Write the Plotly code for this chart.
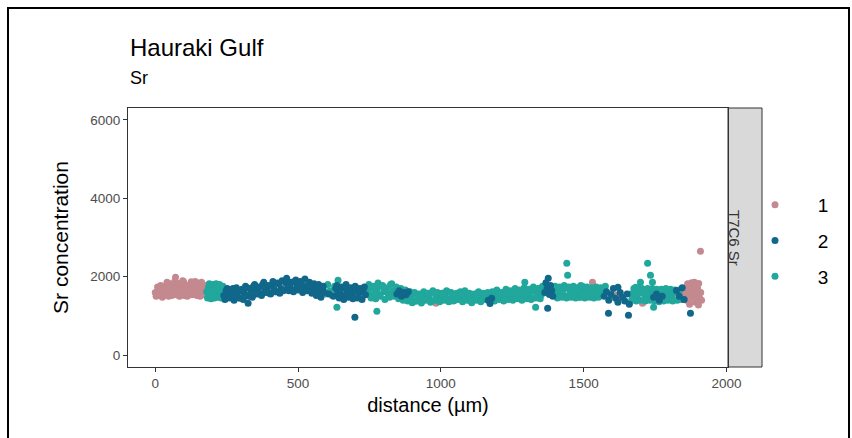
import plotly.graph_objects as go

# ---------------- data ----------------
# group 1 (pink)
dist_1 = [0, 5, 11, 16, 22, 27, 33, 38, 44, 49, 55, 60, 66, 71, 77, 82, 88, 93, 99, 104,
          110, 115, 121, 126, 132, 137, 143, 148, 154, 159, 165, 170, 176,
          3, 8, 13, 19, 25, 30, 36, 41, 47, 52, 58, 63, 68, 74, 80, 85, 91, 96, 102, 107,
          112, 118, 124, 129, 135, 140, 146, 151, 157, 162, 168, 173,
          983, 1245,
          1455, 1470, 1482, 1495, 1508, 1520, 1531, 1545, 1558, 1490, 1615, 1706, 1811,
          1852, 1857, 1860, 1864, 1868, 1871, 1875, 1878, 1882, 1885, 1889, 1892, 1896,
          1899, 1903, 1906, 1910, 1913, 1909, 1902, 1888, 1880, 1866]
sr_1 = [1600, 1560, 1680, 1620, 1540, 1720, 1650, 1780, 1600, 1830, 1700, 1560, 1760, 1990, 1680,
        1820, 1600, 1750, 1880, 1650, 1560, 1780, 1700, 1870, 1620, 1760, 1580, 1840, 1700, 1620,
        1790, 1660, 1720,
        1500, 1740, 1520, 1780, 1480, 1700, 1540, 1860, 1500, 1760, 1520, 1700, 1880, 1540, 1820,
        1500, 1700, 1900, 1520, 1780, 1500, 1720, 1820, 1540, 1760, 1880, 1520, 1740, 1500, 1860,
        1540, 1780,
        1325, 1530,
        1650, 1560, 1720, 1600, 1680, 1540, 1860, 1620, 1700, 1580, 1530, 1325, 1530,
        1560, 1720, 1400, 1820, 1540, 1300, 1680, 1850, 1450, 1620, 1780, 1350, 1520,
        1700, 1830, 1460, 1600, 1400, 2650, 1280, 1860, 1560, 1650]

# group 2 (dark blue)
dist_2 = [240, 248, 256, 264, 272, 280, 288, 296, 304, 312, 320, 328, 336, 344, 352, 360, 368,
          376, 384, 392, 400, 408, 416, 424, 432, 440, 448, 456, 464, 472, 480, 488, 496, 504,
          512, 520, 528, 536, 544, 552, 560, 568, 576, 584, 592, 608, 624, 632, 640,
          648, 656, 664, 672, 680, 688, 696, 704, 712, 720, 728, 736,
          244, 252, 260, 268, 276, 284, 292, 300, 308, 316, 324, 332, 340, 348, 356, 364, 372,
          380, 388, 396, 404, 412, 420, 428, 436, 444, 452, 460, 468, 476, 484, 492, 500, 508,
          516, 524, 532, 540, 548, 556, 564, 572, 580, 588, 636, 644, 652, 660, 668, 676,
          684, 692, 700, 708, 716, 724, 732,
          325, 699,
          846, 854, 862, 870, 878, 886,
          1166, 1172, 1178,
          1364, 1368, 1372, 1376, 1380, 1384, 1388, 1392, 1374,
          1572, 1580, 1588, 1596, 1604, 1612, 1620, 1628, 1636, 1644, 1652, 1660,
          1587, 1657, 1620,
          1745, 1755, 1765, 1775,
          1825, 1835, 1845, 1852, 1874]
sr_2 = [1520, 1640, 1480, 1600, 1700, 1540, 1620, 1450, 1680, 1580, 1720, 1500, 1650, 1760, 1600,
        1700, 1560, 1800, 1650, 1720, 1580, 1780, 1680, 1620, 1820, 1700, 1640, 1850, 1720, 1800,
        1660, 1880, 1760, 1700, 1840, 1740, 1660, 1800, 1700, 1760, 1620, 1720, 1560, 1680, 1600,
        1560, 1500, 1700, 1580, 1640, 1520, 1720, 1600, 1680, 1540, 1640, 1700, 1560,
        1620, 1680, 1540,
        1420, 1700, 1460, 1660, 1400, 1720, 1480, 1640, 1420, 1760, 1520, 1700, 1480, 1800, 1560,
        1740, 1520, 1860, 1600, 1780, 1560, 1880, 1620, 1840, 1580, 1900, 1660, 1960, 1640, 1860,
        1620, 1920, 1660, 1880, 1600, 1940, 1640, 1860, 1580, 1820, 1520, 1800, 1480, 1760,
        1780, 1460, 1740, 1420, 1800, 1480, 1720, 1440, 1760, 1460, 1700, 1420, 1740,
        1325, 968,
        1560, 1640, 1500, 1600, 1540, 1620,
        1400, 1320, 1450,
        1600, 1850, 1700, 1960, 1550, 1780, 1650, 1500, 1197,
        1500, 1620, 1400, 1550, 1700, 1450, 1350, 1600, 1480, 1380, 1560, 1300,
        1070, 1019, 1730,
        1480, 1560, 1400, 1500,
        1650, 1500, 1720, 1420, 1070]

# group 3 (teal)
dist_3 = [180, 186, 192, 198, 204, 210, 216, 222, 228, 234, 240, 246,
          183, 189, 195, 201, 207, 213, 219, 225, 231, 237, 243,
          588, 596, 604, 612, 620, 628, 636, 644, 640, 636, 776,
          744, 752, 760, 768, 776, 784, 792, 800, 808, 816, 824, 832, 840, 848, 856, 864, 872,
          880, 888, 896, 904, 912, 920, 928, 936, 944, 952, 960, 968, 976, 984, 992, 1000, 1008,
          1016, 1024, 1032, 1040, 1048, 1056, 1064, 1072, 1080, 1088, 1096, 1104, 1112, 1120,
          1128, 1136, 1144, 1152, 1160, 1168, 1176, 1184, 1192, 1200, 1208, 1216, 1224, 1232,
          1240, 1248, 1256, 1264, 1272, 1280, 1288, 1296, 1304, 1312, 1320, 1328, 1336, 1344,
          1352, 1360,
          748, 756, 764, 772, 780, 788, 796, 804, 812, 820, 828, 836, 844, 852, 860, 868, 876,
          884, 892, 900, 908, 916, 924, 932, 940, 948, 956, 964, 972, 980, 988, 996, 1004, 1012,
          1020, 1028, 1036, 1044, 1052, 1060, 1068, 1076, 1084, 1092, 1100, 1108, 1116, 1124,
          1132, 1140, 1148, 1156, 1164, 1172, 1180, 1188, 1196, 1204, 1212, 1220, 1228, 1236,
          1244, 1252, 1260, 1268, 1276, 1284, 1292, 1300, 1308, 1316, 1324, 1332, 1340, 1348,
          1356,
          1294, 1332,
          1396, 1404, 1412, 1420, 1428, 1436, 1444, 1452, 1460, 1468, 1476, 1484, 1492, 1500,
          1508, 1516, 1524, 1532, 1540, 1548, 1556, 1564, 1576,
          1400, 1408, 1416, 1424, 1432, 1440, 1448, 1456, 1464, 1472, 1480, 1488, 1496, 1504,
          1512, 1520, 1528, 1536, 1544, 1552, 1560,
          1441, 1444, 1490,
          1664, 1672, 1680, 1688, 1696, 1704, 1712, 1720, 1728, 1736, 1744, 1752, 1760, 1768,
          1776, 1784, 1792, 1800, 1808, 1816,
          1668, 1676, 1684, 1692, 1700, 1708, 1716, 1724, 1732, 1740, 1748, 1756, 1764, 1772,
          1780, 1788, 1796, 1804, 1812, 1820, 1828, 1836, 1844,
          1682, 1699, 1724, 1734, 1741, 1745]
sr_3 = [1620, 1720, 1560, 1680, 1600, 1740, 1540, 1660, 1700, 1520, 1620, 1560,
        1460, 1820, 1440, 1800, 1460, 1820, 1480, 1800, 1460, 1760, 1440,
        1700, 1560, 1800, 1640, 1520, 1760, 1600, 1700, 1910, 1223, 1121,
        1640, 1520, 1720, 1600, 1680, 1540, 1760, 1620, 1700, 1560, 1800, 1640, 1580, 1700, 1520,
        1620, 1480, 1580, 1500, 1420, 1560, 1380, 1480, 1520, 1400, 1560, 1440, 1520, 1380, 1600,
        1460, 1540, 1420, 1580, 1480, 1620, 1440, 1540, 1400, 1580, 1500, 1440, 1600, 1460, 1540,
        1380, 1520, 1440, 1580, 1420, 1500, 1560, 1440, 1520, 1400, 1560, 1480, 1600, 1440, 1540,
        1480, 1620, 1500, 1440, 1580, 1520, 1640, 1480, 1580, 1660, 1520, 1600, 1460, 1640, 1560,
        1700, 1540, 1620,
        1800, 1460, 1760, 1440, 1840, 1500, 1780, 1420, 1720, 1480, 1820, 1500, 1740, 1440, 1700,
        1400, 1660, 1380, 1620, 1340, 1600, 1380, 1560, 1330, 1620, 1400, 1580, 1350, 1640, 1400,
        1600, 1360, 1580, 1400, 1640, 1360, 1600, 1380, 1560, 1420, 1620, 1360, 1640, 1400, 1580,
        1340, 1560, 1400, 1620, 1360, 1580, 1420, 1600, 1360, 1620, 1380, 1660, 1420, 1600, 1380,
        1680, 1420, 1640, 1400, 1700, 1440, 1660, 1400, 1720, 1440, 1680, 1420, 1740, 1460, 1700,
        1440, 1760,
        1860, 1223,
        1620, 1540, 1700, 1580, 1660, 1500, 1720, 1600, 1540, 1680, 1580, 1480, 1640, 1560,
        1700, 1520, 1620, 1480, 1580, 1660, 1520, 1600, 1760,
        1760, 1460, 1740, 1480, 1780, 1460, 1740, 1480, 1760, 1460, 1720, 1480, 1760, 1460,
        1740, 1480, 1720, 1460, 1740, 1480, 1720,
        2344, 2038, 1780,
        1560, 1480, 1640, 1520, 1600, 1700, 1560, 1480, 1620, 1540, 1660, 1600, 1520, 1640,
        1560, 1500, 1620, 1560, 1480, 1600,
        1400, 1700, 1380, 1720, 1400, 1680, 1380, 1700, 1400, 1700, 1380, 1680, 1360, 1680,
        1380, 1700, 1400, 1680, 1380, 1660, 1400, 1660, 1420,
        1732, 1860, 2344, 2038, 1860, 1223]

group_names = ["1", "2", "3"]
group_colors = ["#C4898F", "#11678A", "#21A79B"]
facet_label = "T7C6 Sr"
x_ticks = [0, 500, 1000, 1500, 2000]
y_ticks = [0, 2000, 4000, 6000]

assert len(dist_1) == len(sr_1) and len(dist_2) == len(sr_2) and len(dist_3) == len(sr_3)

# ---------------- figure ----------------
W, H = 852, 438
L, R, T, B = 128, 90, 108, 71
pw = W - L - R
ph = H - T - B
panel_right = (728 - L) / pw


def px_x(p):
    return (p - L) / pw


def px_y(p):
    return (H - B - p) / ph


fig = go.Figure()
series = {"1": (dist_1, sr_1), "2": (dist_2, sr_2), "3": (dist_3, sr_3)}
draw_order = ["1", "3", "2"]
for name in draw_order:
    idx = group_names.index(name)
    xs, ys = series[name]
    fig.add_trace(go.Scatter(
        x=xs, y=ys, mode="markers", name="\u2002\u2002\u2009" + name,
        legendgroup=name, legendrank=idx + 1,
        marker=dict(color=group_colors[idx], size=7, line=dict(width=0)),
    ))

font_family = "Liberation Sans, Arial, sans-serif"
fig.update_layout(
    width=W, height=H,
    margin=dict(l=L, r=R, t=T, b=B),
    paper_bgcolor="white", plot_bgcolor="white",
    font=dict(family=font_family, color="#000000"),
    showlegend=True,
    legend=dict(x=px_x(755), xanchor="left", y=px_y(241), yanchor="middle",
                font=dict(size=19, color="#000000"), tracegroupgap=8,
                bgcolor="rgba(0,0,0,0)"),
    xaxis=dict(domain=[0, panel_right], range=[-95.5, 2005.5], tickvals=x_ticks,
               showgrid=False, zeroline=False, showline=True, mirror=True,
               linecolor="#333333", linewidth=1, ticks="outside", ticklen=4,
               tickcolor="#333333", tickfont=dict(size=13.5, color="#4D4D4D"),
               title=dict(text="distance (µm)", font=dict(size=20, color="#000000"), standoff=7)),
    yaxis=dict(range=[-300, 6300], tickvals=y_ticks,
               showgrid=False, zeroline=False, showline=True, mirror=True,
               linecolor="#333333", linewidth=1, ticks="outside", ticklen=4,
               tickcolor="#333333", tickfont=dict(size=13.5, color="#4D4D4D"),
               title=dict(text="Sr concentration", font=dict(size=21, color="#000000"), standoff=15)),
)

# facet strip
fig.add_shape(type="rect", xref="paper", yref="paper", x0=panel_right, x1=1, y0=0, y1=1,
              fillcolor="#D9D9D9", line=dict(color="#333333", width=1), layer="below")
fig.add_annotation(text=facet_label, xref="paper", yref="paper", x=(panel_right + 1) / 2, y=0.5,
                   textangle=90, showarrow=False, font=dict(size=15, color="#333333"))

# title and subtitle
fig.add_annotation(text="Hauraki Gulf", xref="paper", yref="paper", x=px_x(128), y=px_y(47),
                   xanchor="left", yanchor="middle", showarrow=False,
                   font=dict(size=24, color="#000000"))
fig.add_annotation(text="Sr", xref="paper", yref="paper", x=px_x(128), y=px_y(78),
                   xanchor="left", yanchor="middle", showarrow=False,
                   font=dict(size=18, color="#000000"))

# outer frame of the image
fig.add_shape(type="rect", xref="paper", yref="paper", x0=px_x(8), x1=px_x(849),
              y0=px_y(470), y1=px_y(8), line=dict(color="#000000", width=2),
              fillcolor="rgba(0,0,0,0)")

fig.write_html("out.html")
